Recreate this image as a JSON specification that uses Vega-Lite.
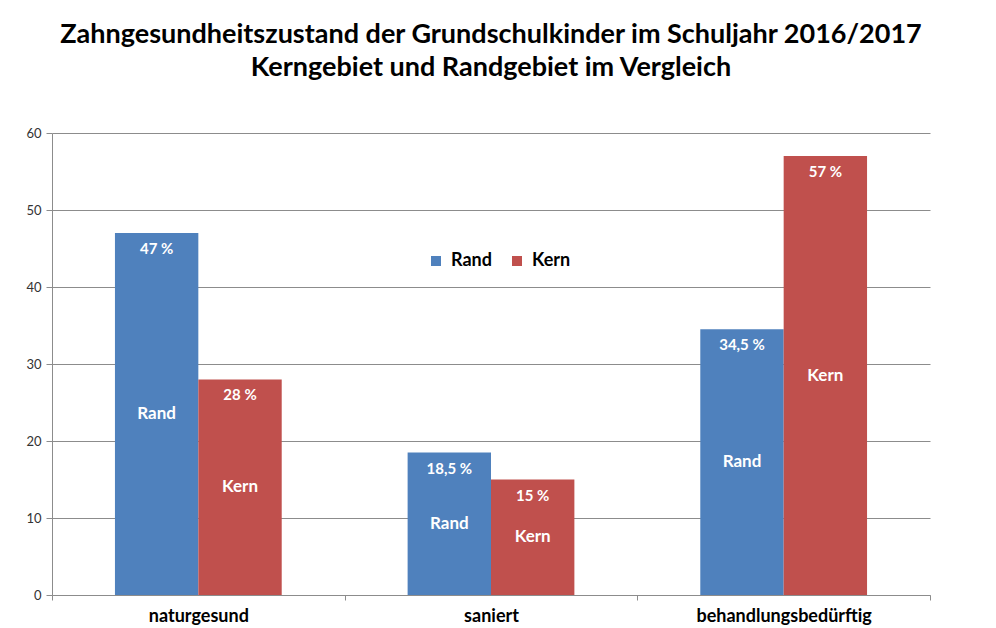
{
  "$schema": "https://vega.github.io/schema/vega-lite/v6.json",
  "width": 878,
  "height": 462,
  "autosize": {"type": "none"},
  "padding": {"left": 52, "top": 133, "right": 66, "bottom": 33},
  "background": "white",
  "title": {
    "text": ["Zahngesundheitszustand der Grundschulkinder im Schuljahr 2016/2017", "Kerngebiet und Randgebiet im Vergleich"],
    "font": "Lato",
    "fontSize": 27,
    "fontWeight": "bold",
    "color": "#000000",
    "anchor": "middle",
    "lineHeight": 33,
    "offset": 45
  },
  "config": {
    "view": {"stroke": null},
    "font": "Lato"
  },
  "data": {
    "values": [
      {"kategorie": "naturgesund", "gebiet": "Rand", "anteil": 47, "beschriftung": "47 %"},
      {"kategorie": "naturgesund", "gebiet": "Kern", "anteil": 28, "beschriftung": "28 %"},
      {"kategorie": "saniert", "gebiet": "Rand", "anteil": 18.5, "beschriftung": "18,5 %"},
      {"kategorie": "saniert", "gebiet": "Kern", "anteil": 15, "beschriftung": "15 %"},
      {"kategorie": "behandlungsbedürftig", "gebiet": "Rand", "anteil": 34.5, "beschriftung": "34,5 %"},
      {"kategorie": "behandlungsbedürftig", "gebiet": "Kern", "anteil": 57, "beschriftung": "57 %"}
    ]
  },
  "encoding": {
    "x": {
      "field": "kategorie",
      "type": "nominal",
      "sort": ["naturgesund", "saniert", "behandlungsbedürftig"],
      "scale": {"paddingInner": 0, "paddingOuter": 0},
      "axis": {
        "title": null,
        "labelAngle": 0,
        "labelFont": "Lato",
        "labelFontSize": 18,
        "labelFontWeight": "bold",
        "labelColor": "#000000",
        "domainColor": "#8c8c8c",
        "tickColor": "#8c8c8c",
        "tickBand": "extent",
        "tickSize": 5,
        "labelPadding": 7
      }
    },
    "xOffset": {
      "field": "gebiet",
      "type": "nominal",
      "sort": ["Rand", "Kern"],
      "scale": {"paddingInner": 0, "paddingOuter": 0.755}
    }
  },
  "layer": [
    {
      "mark": {"type": "bar"},
      "encoding": {
        "y": {
          "field": "anteil",
          "type": "quantitative",
          "scale": {"domain": [0, 60]},
          "axis": {
            "title": null,
            "values": [0, 10, 20, 30, 40, 50, 60],
            "grid": true,
            "gridColor": "#8c8c8c",
            "domainColor": "#8c8c8c",
            "tickColor": "#8c8c8c",
            "tickSize": 6,
            "labelFont": "Lato",
            "labelFontSize": 13,
            "labelColor": "#333333",
            "labelPadding": 5
          }
        },
        "color": {
          "field": "gebiet",
          "type": "nominal",
          "sort": ["Rand", "Kern"],
          "scale": {"domain": ["Rand", "Kern"], "range": ["#4F81BD", "#C0504D"]},
          "legend": {
            "title": null,
            "orient": "none",
            "legendX": 375,
            "legendY": 119,
            "direction": "horizontal",
            "symbolType": "square",
            "symbolSize": 100,
            "symbolStrokeWidth": 0,
            "labelFont": "Lato",
            "labelFontSize": 18,
            "labelFontWeight": "bold",
            "labelColor": "#000000",
            "columnPadding": 16,
            "labelOffset": 6
          }
        }
      }
    },
    {
      "mark": {"type": "text", "color": "white", "fontWeight": "bold", "fontSize": 15, "font": "Lato", "baseline": "middle", "dy": 16},
      "encoding": {
        "y": {"field": "anteil", "type": "quantitative"},
        "text": {"field": "beschriftung"}
      }
    },
    {
      "transform": [{"calculate": "datum.anteil / 2", "as": "mitte"}],
      "mark": {"type": "text", "color": "white", "fontWeight": "bold", "fontSize": 17, "font": "Lato", "baseline": "middle"},
      "encoding": {
        "y": {"field": "mitte", "type": "quantitative"},
        "text": {"field": "gebiet"}
      }
    }
  ]
}
